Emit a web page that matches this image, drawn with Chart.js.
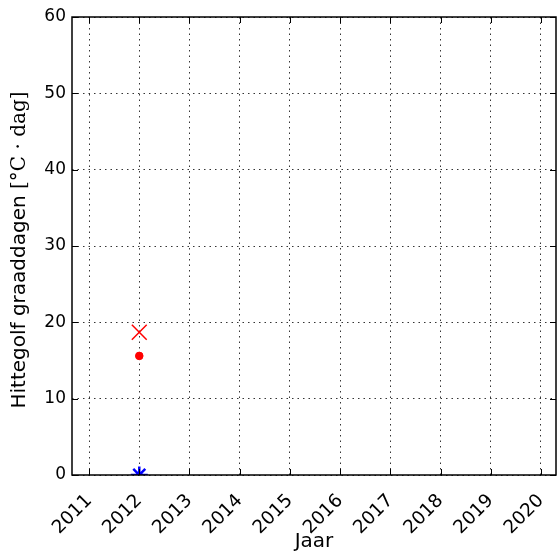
<!DOCTYPE html>
<html>
<head>
<meta charset="utf-8">
<script src="https://cdn.jsdelivr.net/npm/chart.js@4.4.0/dist/chart.umd.min.js"></script>
<style>
  html, body { margin: 0; padding: 0; background: #fff; overflow: hidden; }
  /* Chart.js houdt rechts ruimte vrij voor het laatste gedraaide label;
     het canvas is iets breder en die strook valt buiten beeld */
  #wrap { width: 557px; height: 554px; overflow: hidden; }
</style>
</head>
<body>
<div id="wrap"><canvas id="hittegolfChart" width="568" height="554"></canvas></div>
<script>
// meetjaren en waarden
const jaren = [2012];
const kruisWaarden = [18.7];   // rode kruisjes
const puntWaarden = [15.6];    // rode stippen
const sterWaarden = [0];       // blauwe sterren

const xTicks = [2011, 2012, 2013, 2014, 2015, 2016, 2017, 2018, 2019, 2020];
const yTicks = [0, 10, 20, 30, 40, 50, 60];

const yTickFont = { family: 'DejaVu Sans', size: 17 };
const xTickFont = { family: 'DejaVu Sans', size: 18.5 };
const titleFont = { family: 'DejaVu Sans', size: 20 };

function toPoints(values) {
  return jaren.map((j, i) => ({ x: j, y: values[i] }));
}

// kader rond het plotvlak plus tickstreepjes naar binnen (zoals matplotlib)
const frameAndTicks = {
  id: 'frameAndTicks',
  afterDraw(chart) {
    const { ctx, chartArea: a, scales } = chart;
    ctx.save();
    ctx.strokeStyle = '#000';
    ctx.lineWidth = 1;
    const len = 6;
    ctx.beginPath();
    scales.x.ticks.forEach(t => {
      const px = Math.round(scales.x.getPixelForValue(t.value)) + 0.5;
      ctx.moveTo(px, a.bottom); ctx.lineTo(px, a.bottom - len);
      ctx.moveTo(px, a.top); ctx.lineTo(px, a.top + len);
    });
    scales.y.ticks.forEach(t => {
      const py = Math.round(scales.y.getPixelForValue(t.value)) + 0.5;
      ctx.moveTo(a.left, py); ctx.lineTo(a.left + len, py);
      ctx.moveTo(a.right, py); ctx.lineTo(a.right - len, py);
    });
    ctx.stroke();
    ctx.lineWidth = 1.5;
    ctx.strokeRect(a.left, a.top, a.right - a.left, a.bottom - a.top);

    // y-as titel: gewone tekst + eenheid in wiskundige letter
    const deel1 = 'Hittegolf graaddagen ';
    const deel2 = '[°C · dag]';
    const f1 = '20px "DejaVu Sans"';
    const f2 = '20px "DejaVu Serif"';
    ctx.font = f1;
    const w1 = ctx.measureText(deel1).width;
    ctx.font = f2;
    const w2 = ctx.measureText(deel2).width;
    const cy = (a.top + a.bottom) / 2 + 4;
    ctx.translate(20, cy);
    ctx.rotate(-Math.PI / 2);
    ctx.fillStyle = '#000';
    ctx.textBaseline = 'middle';
    ctx.textAlign = 'left';
    ctx.font = f1;
    ctx.fillText(deel1, -(w1 + w2) / 2, 0);
    ctx.font = f2;
    ctx.fillText(deel2, -(w1 + w2) / 2 + w1, 0);
    ctx.restore();
  }
};

const ctx = document.getElementById('hittegolfChart').getContext('2d');
new Chart(ctx, {
  type: 'scatter',
  data: {
    datasets: [
      {
        label: 'kruis',
        data: toPoints(kruisWaarden),
        pointStyle: 'crossRot',
        pointRadius: 10.5,
        borderColor: '#ff0000',
        backgroundColor: '#ff0000',
        borderWidth: 1.5,
      },
      {
        label: 'punt',
        data: toPoints(puntWaarden),
        pointStyle: 'circle',
        pointRadius: 3.8,
        borderColor: '#ff0000',
        backgroundColor: '#ff0000',
        borderWidth: 1,
      },
      {
        label: 'ster',
        data: toPoints(sterWaarden),
        pointStyle: 'star',
        pointRadius: 8.5,
        borderColor: '#0000ff',
        backgroundColor: '#0000ff',
        borderWidth: 2.5,
        clip: 0,
      },
    ],
  },
  options: {
    responsive: false,
    animation: false,
    layout: { padding: { top: 17, right: 1, left: 0, bottom: 0 } },
    plugins: {
      legend: { display: false },
      tooltip: { enabled: false },
    },
    scales: {
      x: {
        type: 'linear',
        min: 2010.66,
        max: 2020.3,
        afterBuildTicks: scale => {
          scale.ticks = xTicks.map(v => ({ value: v }));
        },
        afterFit: scale => { scale.height = 79; },
        ticks: {
          color: '#000',
          font: xTickFont,
          minRotation: 45,
          maxRotation: 45,
          padding: 0,
          callback: v => String(v),
        },
        // onzichtbare tickstreepjes zorgen voor de afstand tot de labels
        grid: {
          color: '#000',
          lineWidth: 0.8,
          drawTicks: true,
          tickLength: 15,
          tickColor: 'rgba(0,0,0,0)',
        },
        border: { display: false, dash: [1.5, 4] },
        title: {
          display: true,
          text: 'Jaar',
          color: '#000',
          font: titleFont,
          padding: { top: 0, bottom: 0 },
        },
      },
      y: {
        min: 0,
        max: 60,
        afterBuildTicks: scale => {
          scale.ticks = yTicks.map(v => ({ value: v }));
        },
        afterFit: scale => { scale.width = 72; },
        ticks: {
          color: '#000',
          font: yTickFont,
          padding: 6,
          callback: v => String(v),
        },
        grid: {
          color: '#000',
          lineWidth: 0.8,
          drawTicks: false,
        },
        border: { display: false, dash: [1.5, 4] },
      },
    },
  },
  plugins: [frameAndTicks],
});
</script>
</body>
</html>
